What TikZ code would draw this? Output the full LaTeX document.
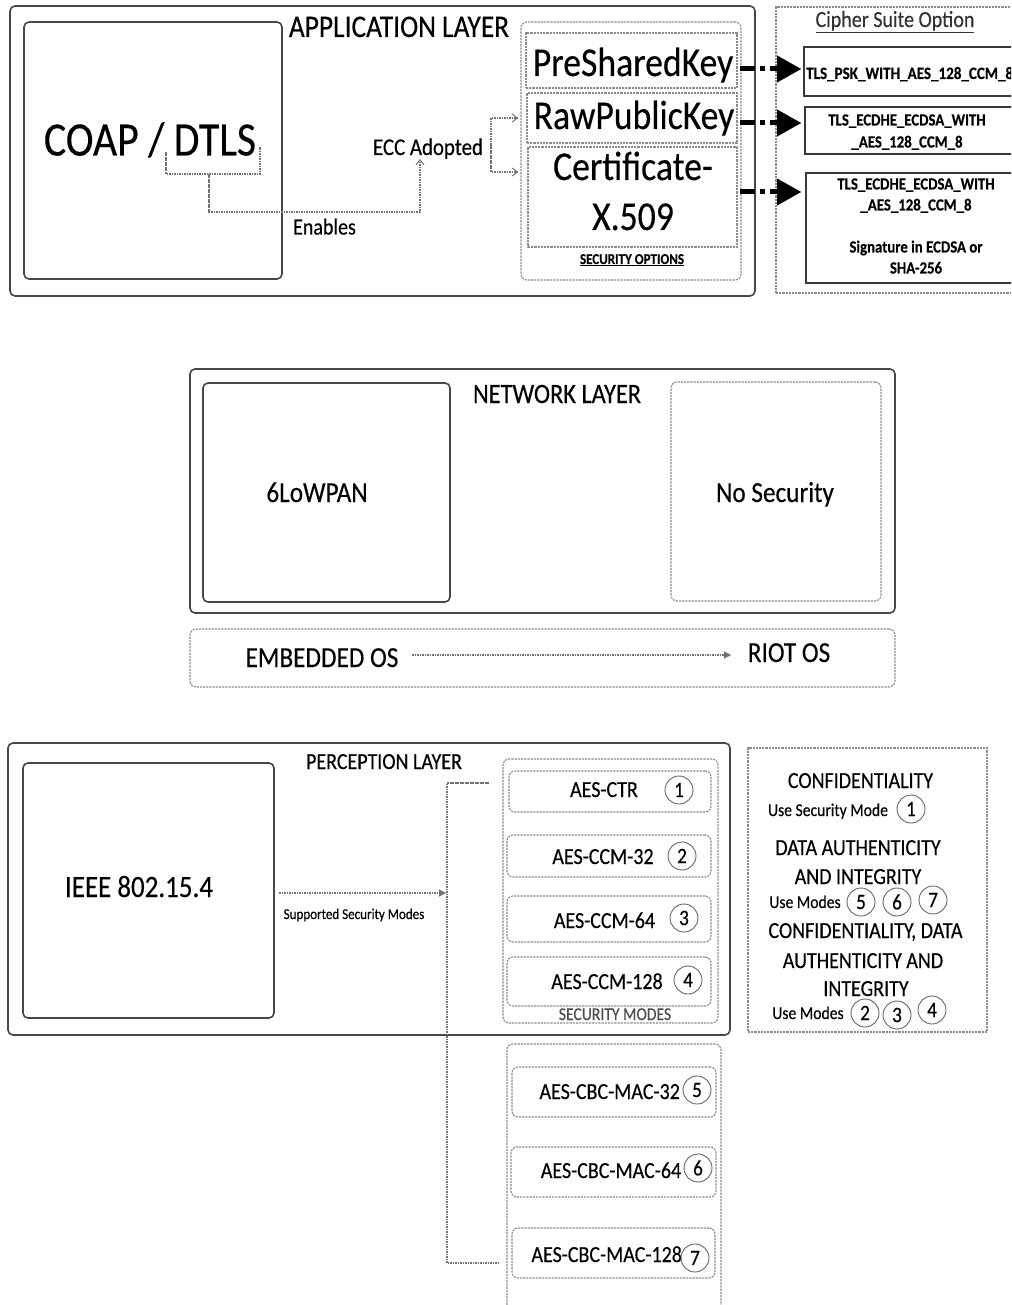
\documentclass[tikz,border=0pt]{standalone}
\usepackage{fontspec}
\setmainfont{Carlito}[FakeStretch=0.87,FakeBold=0.3]
\usetikzlibrary{arrows.meta,fit}
\newcommand\fsz[2]{\fontsize{#1}{#2}\selectfont}

\begin{document}
\begin{tikzpicture}[x=1pt,y=-1pt,
  solidbox/.style={draw=black!72,line width=1.6pt,rounded corners=5pt,inner sep=0pt},
  plainbox/.style={draw=black!78,line width=1.3pt,inner sep=0pt},
  dashbox/.style={draw=black!45,line width=1.1pt,dash pattern=on 2.2pt off 1pt,rounded corners=6pt,inner sep=0pt},
  dotline/.style={draw=black!55,line width=1.1pt,dash pattern=on 1.6pt off 0.9pt},
  txt/.style={text=black,inner sep=0pt,anchor=base},
  num/.style={circle,draw=black!60,line width=0.9pt,minimum size=28pt,inner sep=0pt,font=\fsz{22}{24},text=black},
  bigarrow/.style={line width=5pt,draw=black,dash pattern=on 15pt off 5pt on 5pt off 5pt,
    -{Triangle[length=24pt,width=27pt,line width=0.1pt]}},
  barb/.style={-{Straight Barb[length=5pt,width=8pt,line width=1pt]}},
  smalltip/.style={-{Triangle[length=7pt,width=7pt,line width=0.1pt]}},
]
\useasboundingbox (0,0) rectangle (1011,1305);
\fill[white] (0,0) rectangle (1011,1305);
\clip (0,0) rectangle (1011,1305);

% ---------------- application layer ----------------
\node[solidbox,fit={(10,6)(755,296)}] (app) {};
\node[txt,font=\fsz{31.5}{36}] (applbl) at (399,37) {APPLICATION LAYER};
\node[solidbox,fit={(24,22)(282,279)}] (coapbox) {};
\node[txt,font=\fsz{48}{56}] (coap) at (150,155.5) {COAP / DTLS};

\node[txt,font=\fsz{24}{28}] (ecc) at (428,155) {ECC Adopted};
\node[txt,font=\fsz{23}{27}] (enables) at (324.5,234.5) {Enables};

\coordinate (brA) at (166,152);
\coordinate (brB) at (166,174);
\coordinate (brC) at (260,174);
\coordinate (brD) at (260,147);
\coordinate (brM) at (209,174);
\draw[dotline] (brA) -- (brB) -- (brC) -- (brD);
\draw[dotline,barb] (brM) -- (209,212) -- (420,212) -- (420,159);

\node[dashbox,fit={(521,22)(741,280)}] (secopt) {};
\node[dashbox,rounded corners=0pt,fit={(526,33)(737,88)}] (psk) {};
\node[dashbox,rounded corners=0pt,fit={(527,93)(737,143)}] (rpk) {};
\node[dashbox,rounded corners=0pt,fit={(528,147)(737,247)}] (cert) {};
\node[txt,font=\fsz{41}{48}] (psktxt) at (633,76) {PreSharedKey};
\node[txt,font=\fsz{41}{48}] (rpktxt) at (634,129) {RawPublicKey};
\node[txt,font=\fsz{41}{48}] (certa) at (633,180) {Certificate-};
\node[txt,font=\fsz{41}{48}] (certb) at (633,230) {X.509};
\node[txt,font=\bfseries\fsz{15}{18}] (secoptlbl) at (632,264) {\underline{SECURITY OPTIONS}};

% ECC applies to the raw public key and the certificate
\draw[dotline,barb] (491,145) -- (491,118) -- (518,118);
\draw[dotline,barb] (491,145) -- (491,172) -- (518,172);

% cipher suites
\node[dashbox,rounded corners=0pt,fit={(776,7)(1030,293)}] (cipher) {};
\node[txt,font=\fsz{23}{27},text=black!80] (cipherlbl) at (895,27) {\underline{Cipher Suite Option}};
\node[plainbox,fit={(804,47)(1030,96)}] (tlsa) {};
\node[plainbox,fit={(805,107)(1030,154)}] (tlsb) {};
\node[plainbox,fit={(806,173)(1030,283)}] (tlsc) {};
\node[txt,anchor=base west,font=\bfseries\fsz{17.3}{20}] (tlsatxt) at (806,79) {TLS\_PSK\_WITH\_AES\_128\_CCM\_8};
\node[txt,font=\bfseries\fsz{17}{20}] (tlsb1) at (907,125.5) {TLS\_ECDHE\_ECDSA\_WITH};
\node[txt,font=\bfseries\fsz{17}{20}] (tlsb2) at (907,147.5) {\_AES\_128\_CCM\_8};
\node[txt,font=\bfseries\fsz{17}{20}] (tlsc1) at (916,189.5) {TLS\_ECDHE\_ECDSA\_WITH};
\node[txt,font=\bfseries\fsz{17}{20}] (tlsc2) at (916,210.5) {\_AES\_128\_CCM\_8};
\node[txt,font=\bfseries\fsz{17}{20}] (tlsc3) at (916,252.5) {Signature in ECDSA or};
\node[txt,font=\bfseries\fsz{17}{20}] (tlsc4) at (916,273.5) {SHA-256};

\coordinate (arA) at (740,69);   \coordinate (arAe) at (801,69);
\coordinate (arB) at (740,123);  \coordinate (arBe) at (801,123);
\coordinate (arC) at (740,192);  \coordinate (arCe) at (801,192);
\draw[bigarrow] (arA) -- (arAe);
\draw[bigarrow] (arB) -- (arBe);
\draw[bigarrow] (arC) -- (arCe);

% ---------------- network layer ----------------
\node[solidbox,fit={(190,369)(895,613)}] (net) {};
\node[solidbox,fit={(203,383)(450,602)}] (lowpan) {};
\node[dashbox,fit={(671,382)(881,601)}] (nosec) {};
\node[txt,font=\fsz{28}{33}] (netlbl) at (557,403) {NETWORK LAYER};
\node[txt,font=\fsz{29}{34}] (lowpantxt) at (317,502) {6LoWPAN};
\node[txt,font=\fsz{29}{34}] (nosectxt) at (775,502) {No Security};

\node[dashbox,fit={(190,629)(895,687)}] (osbox) {};
\node[txt,font=\fsz{29}{34}] (emb) at (322,667) {EMBEDDED OS};
\node[txt,font=\fsz{29}{34}] (riot) at (789,662) {RIOT OS};
\coordinate (osA) at (412,655);
\coordinate (osB) at (731,655);
\draw[dotline,smalltip] (osA) -- (osB);

% ---------------- perception layer ----------------
\node[solidbox,fit={(8,743)(730,1035)}] (perc) {};
\node[solidbox,fit={(23,763)(274,1018)}] (ieee) {};
\node[txt,font=\fsz{31}{36}] (ieeetxt) at (139,897) {IEEE 802.15.4};
\node[txt,font=\fsz{23}{27}] (perclbl) at (384,769) {PERCEPTION LAYER};
\node[txt,font=\fsz{15}{18}] (suplbl) at (354,919) {Supported Security Modes};

\coordinate (spA) at (279,893);
\coordinate (spB) at (446,893);
\draw[dotline,smalltip] (spA) -- (spB);
\draw[dotline] (489,783) -- (447,783) -- (447,1263) -- (500,1263);

\node[dashbox,fit={(503,759)(718,1023)}] (modes) {};
\node[dashbox,fit={(509,771)(711,812)}] (mctr) {};
\node[dashbox,fit={(507,835)(711,877)}] (mccma) {};
\node[dashbox,fit={(507,896)(711,942)}] (mccmb) {};
\node[dashbox,fit={(507,957)(711,1006)}] (mccmc) {};
\node[txt,font=\fsz{23}{27}] (tctr) at (604,797) {AES-CTR};
\node[txt,font=\fsz{23}{27}] (tccma) at (603,864) {AES-CCM-32};
\node[txt,font=\fsz{23}{27}] (tccmb) at (604.5,928) {AES-CCM-64};
\node[txt,font=\fsz{23}{27}] (tccmc) at (607,989) {AES-CCM-128};
\node[num] (n1) at (679,790) {1};
\node[num] (n2) at (682,856) {2};
\node[num] (n3) at (684,918) {3};
\node[num] (n4) at (688,980) {4};
\node[txt,font=\fsz{18}{21},text=black!70] (modeslbl) at (615,1020) {SECURITY MODES};

% legend
\node[dashbox,rounded corners=0pt,fit={(748,748)(987,1032)}] (legend) {};
\node[txt,font=\fsz{23}{27}] (lg1) at (860.5,788) {CONFIDENTIALITY};
\node[txt,font=\fsz{18}{21}] (lg1u) at (828,816) {Use Security Mode};
\node[num] (lgn1) at (911,809) {1};
\node[txt,font=\fsz{23}{27}] (lg2a) at (858,855) {DATA AUTHENTICITY};
\node[txt,font=\fsz{23}{27}] (lg2b) at (858,884) {AND INTEGRITY};
\node[txt,font=\fsz{18}{21}] (lg2u) at (805,908) {Use Modes};
\node[num] (lgn5) at (861,902) {5};
\node[num] (lgn6) at (897,902) {6};
\node[num] (lgn7) at (933,900) {7};
\node[txt,font=\fsz{23}{27}] (lg3a) at (865.5,938) {CONFIDENTIALITY, DATA};
\node[txt,font=\fsz{23}{27}] (lg3b) at (863,968) {AUTHENTICITY AND};
\node[txt,font=\fsz{23}{27}] (lg3c) at (866,996) {INTEGRITY};
\node[txt,font=\fsz{18}{21}] (lg3u) at (808,1019) {Use Modes};
\node[num] (lgn2) at (865,1013) {2};
\node[num] (lgn3) at (897,1015) {3};
\node[num] (lgn4) at (932,1010) {4};

% CBC-MAC modes
\node[dashbox,fit={(507,1044)(721,1330)}] (macs) {};
\node[dashbox,fit={(512,1067)(716,1117)}] (maca) {};
\node[dashbox,fit={(511,1147)(716,1197)}] (macb) {};
\node[dashbox,fit={(512,1228)(715,1278)}] (macc) {};
\node[txt,font=\fsz{23}{27}] (tmaca) at (609.7,1099) {AES-CBC-MAC-32};
\node[txt,font=\fsz{23}{27}] (tmacb) at (611,1178) {AES-CBC-MAC-64};
\node[txt,font=\fsz{23}{27}] (tmacc) at (606.7,1262) {AES-CBC-MAC-128};
\node[num] (n5) at (697,1090) {5};
\node[num] (n6) at (698,1168) {6};
\node[num] (n7) at (695,1258) {7};
\end{tikzpicture}
\end{document}
